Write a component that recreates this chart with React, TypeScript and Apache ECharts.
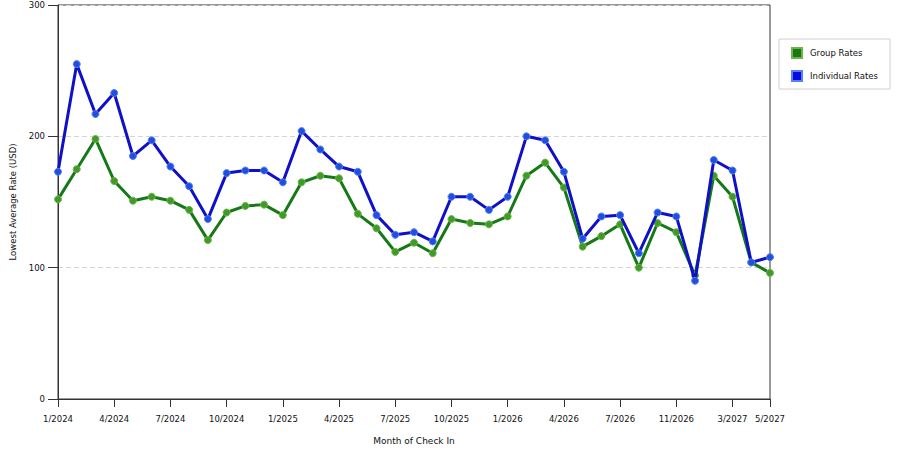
import React, { useEffect, useRef } from 'react';
import * as echarts from 'echarts';

const months = [
    '1/2024', '2/2024', '3/2024', '4/2024', '5/2024', '6/2024', '7/2024', '8/2024', '9/2024', '10/2024', '11/2024', '12/2024',
    '1/2025', '2/2025', '3/2025', '4/2025', '5/2025', '6/2025', '7/2025', '8/2025', '9/2025', '10/2025', '11/2025', '12/2025',
    '1/2026', '2/2026', '3/2026', '4/2026', '5/2026', '6/2026', '7/2026', '8/2026', '9/2026', '11/2026', '12/2026',
    '2/2027', '3/2027', '4/2027', '5/2027'
];

const groupRates = [
    152, 175, 198, 166, 151, 154, 151, 144, 121, 142, 147, 148,
    140, 165, 170, 168, 141, 130, 112, 119, 111, 137, 134, 133,
    139, 170, 180, 161, 116, 124, 133, 100, 134, 127, 94,
    170, 154, 104, 96
];

const individualRates = [
    173, 255, 217, 233, 185, 197, 177, 162, 137, 172, 174, 174,
    165, 204, 190, 177, 173, 140, 125, 127, 120, 154, 154, 144,
    154, 200, 197, 173, 122, 139, 140, 111, 142, 139, 90,
    182, 174, 104, 108
];

const yTicks = [0, 100, 200, 300];

const labelEvery = 3;
const showLabel = (idx: number) => idx % labelEvery === 0 || idx === months.length - 1;

const FONT = 'DejaVu Sans';

const App: React.FC = () => {
    const chartRef = useRef<HTMLDivElement>(null);

    useEffect(() => {
        document.body.style.margin = '0';
        if (chartRef.current) {
            const myChart = echarts.init(chartRef.current, undefined, { renderer: 'svg' });
            const option: echarts.EChartsOption = {
                animation: false,
                backgroundColor: '#ffffff',
                textStyle: { fontFamily: FONT },
                grid: {
                    left: 58,
                    right: 130,
                    top: 5,
                    bottom: 50,
                    show: true,
                    borderColor: '#333',
                    borderWidth: 1
                },
                legend: {
                    orient: 'vertical',
                    left: 779,
                    top: 39,
                    borderColor: '#d0d0d0',
                    borderWidth: 1,
                    padding: [8, 12, 7, 12],
                    itemWidth: 10,
                    itemHeight: 10,
                    itemGap: 11,
                    icon: 'rect',
                    textStyle: { fontSize: 8.5, color: '#111', fontFamily: FONT, padding: [0, 0, 0, 3] },
                    data: [
                        { name: 'Group Rates', itemStyle: { color: '#157a15' } },
                        { name: 'Individual Rates', itemStyle: { color: '#0a0ae6' } }
                    ]
                },
                xAxis: {
                    type: 'category',
                    data: months,
                    boundaryGap: false,
                    name: 'Month of Check In',
                    nameLocation: 'middle',
                    nameGap: 37,
                    nameTextStyle: { fontSize: 9, color: '#111', fontFamily: FONT },
                    axisLine: { lineStyle: { color: '#333', width: 1 } },
                    axisTick: {
                        show: true,
                        length: 8,
                        interval: (idx: number) => showLabel(idx),
                        lineStyle: { color: '#333' }
                    },
                    axisLabel: {
                        interval: (idx: number) => showLabel(idx),
                        fontSize: 8.5,
                        color: '#111',
                        margin: 15,
                        fontFamily: FONT
                    },
                    splitLine: { show: false }
                },
                yAxis: {
                    type: 'value',
                    min: yTicks[0],
                    max: yTicks[yTicks.length - 1],
                    interval: 100,
                    name: 'Lowest Average Rate (USD)',
                    nameLocation: 'middle',
                    nameRotate: 90,
                    nameGap: 32,
                    nameTextStyle: { fontSize: 8.5, color: '#111', fontFamily: FONT },
                    axisLine: { show: true, lineStyle: { color: '#333', width: 1 } },
                    axisTick: { show: true, length: 10, lineStyle: { color: '#333' } },
                    axisLabel: { fontSize: 8.5, color: '#111', margin: 13, fontFamily: FONT },
                    splitLine: { show: true, lineStyle: { color: '#d4d4d4', type: [5, 3] } }
                },
                series: [
                    {
                        name: 'Group Rates',
                        type: 'line',
                        data: groupRates,
                        symbol: 'circle',
                        symbolSize: 7,
                        lineStyle: { color: '#157a15', width: 3 },
                        itemStyle: { color: '#3f9a2a', borderColor: '#6fb24a', borderWidth: 1 },
                        z: 2
                    },
                    {
                        name: 'Individual Rates',
                        type: 'line',
                        data: individualRates,
                        symbol: 'circle',
                        symbolSize: 7,
                        lineStyle: { color: '#1010c8', width: 3 },
                        itemStyle: { color: '#1f4fe0', borderColor: '#5a7ff0', borderWidth: 1 },
                        z: 3
                    }
                ]
            };
            myChart.setOption(option);

            const handleResize = () => {
                myChart.resize();
            };
            window.addEventListener('resize', handleResize);

            return () => {
                window.removeEventListener('resize', handleResize);
                myChart.dispose();
            };
        }
    }, []);

    return (
        <div>
            <div
                ref={chartRef}
                style={{ width: '900px', height: '450px' }}
            />
        </div>
    );
};

export default App;
